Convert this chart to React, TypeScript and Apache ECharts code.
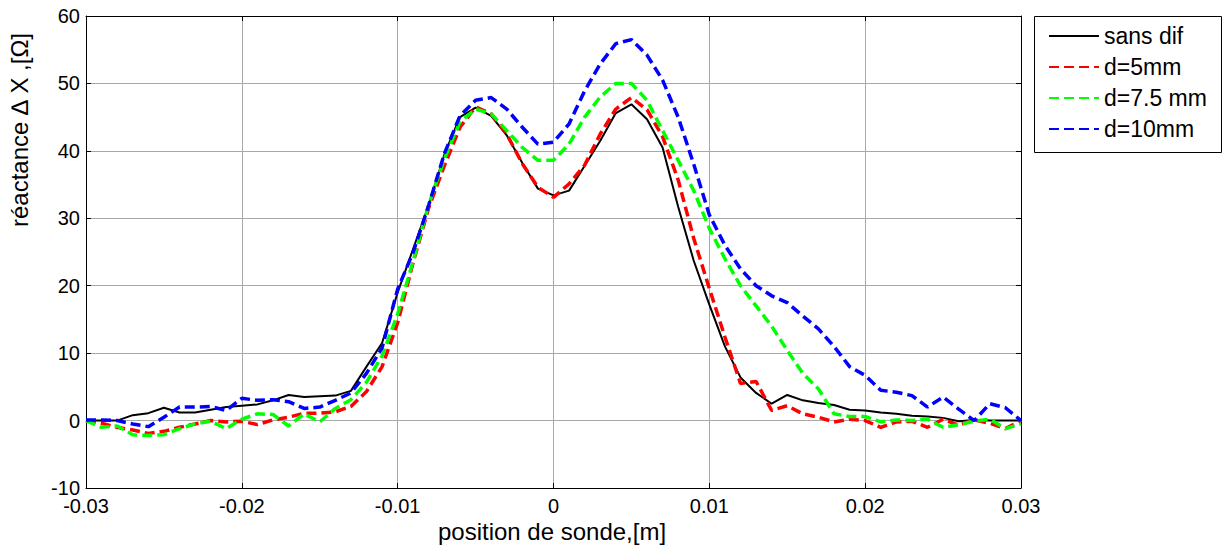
import React, { useEffect, useRef } from "react";
import * as echarts from "echarts";

const positions = [
  -0.03, -0.029, -0.028, -0.027, -0.026, -0.025, -0.024, -0.023, -0.022, -0.021,
  -0.02, -0.019, -0.018, -0.017, -0.016, -0.015, -0.014, -0.013, -0.012, -0.011,
  -0.01, -0.009, -0.008, -0.007, -0.006, -0.005, -0.004, -0.003, -0.002, -0.001,
  0, 0.001, 0.002, 0.003, 0.004, 0.005, 0.006, 0.007, 0.008, 0.009,
  0.01, 0.011, 0.012, 0.013, 0.014, 0.015, 0.016, 0.017, 0.018, 0.019,
  0.02, 0.021, 0.022, 0.023, 0.024, 0.025, 0.026, 0.027, 0.028, 0.029, 0.03,
];

const sansDif = [
  0, 0, 0, 0.8, 1.1, 1.9, 1.2, 1.2, 1.6, 2.0,
  2.2, 2.4, 3.0, 3.8, 3.5, 3.6, 3.7, 4.4, 8.0, 11.5,
  19.0, 25.5, 32.0, 39.5, 45.0, 46.4, 45.2, 42.3, 38.2, 34.4,
  33.4, 34.1, 37.8, 41.5, 45.6, 46.9, 44.7, 40.5, 31.7, 23.7,
  17.2, 11.0, 6.4, 4.1, 2.5, 3.8, 3.0, 2.6, 2.3, 1.6,
  1.5, 1.2, 1.0, 0.7, 0.6, 0.4, -0.1, 0.1, 0, 0, 0,
];

const d5mm = [
  0, -0.4, -1.0, -1.4, -1.9, -1.6, -1.0, -0.5, 0, -0.2,
  -0.1, -0.6, 0.1, 0.5, 1.1, 1.1, 1.3, 2.1, 4.3, 8.0,
  14.5, 23.5, 31.6, 37.8, 43.5, 46.5, 45.5, 42.5, 38.1, 34.6,
  33.1, 35.1, 37.9, 42.5, 46.2, 47.9, 46.1, 42.1, 35.7, 27.0,
  19.6, 12.4, 5.5, 5.8, 1.5, 2.2, 1.0, 0.5, -0.2, 0.2,
  0, -1.0, -0.2, -0.1, -1.0, 0.2, -0.7, 0.1, -0.4, -1.2, 0,
];

const d75mm = [
  0, -1.0, -0.8, -2.1, -2.2, -2.1, -1.2, -0.5, -0.1, -1.2,
  0.2, 1.0, 0.9, -0.8, 1.0, -0.2, 1.8, 3.1, 5.7, 9.6,
  15.8, 23.7, 32.1, 38.8, 44.3, 46.2, 45.5, 43.0, 40.5, 38.6,
  38.6, 41.0, 45.0, 48.0, 50.0, 50.0, 47.5, 43.0, 38.6, 34.1,
  28.5, 24.0, 20.0, 17.0, 14.0, 10.4, 7.0, 4.7, 1.0, 0.6,
  0.6, -0.2, 0.1, 0, 0.2, -1.0, -0.6, -0.1, 0.2, -1.2, -0.5,
];

const d10mm = [
  0.1, 0.1, 0, -0.5, -0.9, 0.5, 2.0, 2.0, 2.1, 1.5,
  3.3, 3.0, 3.1, 2.8, 1.8, 2.0, 3.0, 4.1, 7.0, 10.8,
  19.5, 25.0, 32.0, 39.6, 45.2, 47.5, 47.9, 46.2, 43.5, 41.0,
  41.3, 44.0, 48.9, 52.9, 55.9, 56.5, 54.2, 50.5, 45.0, 38.0,
  30.5, 26.0, 22.5, 20.0, 18.5, 17.5, 15.5, 13.6, 11.0, 8.0,
  6.7, 4.5, 4.2, 3.7, 2.0, 3.5, 1.7, 0, 2.5, 1.9, 0,
];

const seriesNames = ["sans dif", "d=5mm", "d=7.5 mm", "d=10mm"];
const seriesValues = [sansDif, d5mm, d75mm, d10mm];
const seriesColors = ["#000000", "#ff0000", "#00ff00", "#0000ff"];

const xTitle = "position de sonde,[m]";
const yTitle = "réactance ∆ X ,[Ω]";

const FONT = "Liberation Sans, Arial, sans-serif";

export default function App() {
  const ref = useRef<HTMLDivElement>(null);
  useEffect(() => {
    const chart = echarts.init(ref.current as HTMLDivElement, null, { renderer: "svg" });
    const gridLeft = 86;
    const gridTop = 16;
    const gridRight = 1225 - 1021;
    const gridBottom = 545 - 488;

    const axisCommon = {
      axisLine: { show: true, onZero: false, lineStyle: { color: "#000", width: 1 } },
      axisTick: { show: true, inside: true, length: 5, lineStyle: { color: "#000" } },
    };

    const series = seriesNames.map((name, k) => ({
      name,
      type: "line",
      data: positions.map((x, i) => [x, seriesValues[k][i]]),
      symbol: "none",
      showSymbol: false,
      lineStyle: {
        color: seriesColors[k],
        width: k === 0 ? 2 : 3.5,
        type: k === 0 ? "solid" : [10, 5],
      },
      itemStyle: { color: seriesColors[k] },
      z: 2 + k,
    }));

    chart.setOption({
      animation: false,
      backgroundColor: "#ffffff",
      grid: { left: gridLeft, right: gridRight, top: gridTop, bottom: gridBottom, containLabel: false },
      xAxis: [
        {
          type: "value",
          min: -0.03,
          max: 0.03,
          interval: 0.01,
          ...axisCommon,
          axisLabel: { color: "#000", fontSize: 20, fontFamily: FONT, margin: 10, lineHeight: 16 },
          splitLine: { show: true, lineStyle: { color: "#a8a8a8", width: 1 } },
        },
        {
          type: "value",
          position: "top",
          min: -0.03,
          max: 0.03,
          interval: 0.01,
          ...axisCommon,
          axisLabel: { show: false },
          splitLine: { show: false },
        },
      ],
      yAxis: [
        {
          type: "value",
          min: -10,
          max: 60,
          interval: 10,
          ...axisCommon,
          axisLabel: { color: "#000", fontSize: 20, fontFamily: FONT, margin: 6, lineHeight: 14 },
          splitLine: { show: true, lineStyle: { color: "#a8a8a8", width: 1 } },
        },
        {
          type: "value",
          position: "right",
          min: -10,
          max: 60,
          interval: 10,
          ...axisCommon,
          axisLabel: { show: false },
          splitLine: { show: false },
        },
      ],
      legend: {
        orient: "vertical",
        left: 1048,
        top: 24,
        padding: 0,
        itemWidth: 50,
        itemHeight: 14,
        itemGap: 7,
        itemStyle: { opacity: 0 },
        textStyle: { color: "#000", fontSize: 23, fontFamily: FONT, lineHeight: 24 },
        data: seriesNames,
      },
      graphic: [
        {
          type: "rect",
          shape: { x: 1034.5, y: 16.5, width: 187, height: 136 },
          style: { fill: "none", stroke: "#000", lineWidth: 1 },
          z: 0,
        },
        {
          type: "text",
          x: 552,
          y: 531,
          style: {
            text: xTitle,
            fill: "#000",
            font: `24px ${FONT}`,
            textAlign: "center",
            textVerticalAlign: "middle",
          },
        },
        {
          type: "text",
          x: 19,
          y: 130,
          rotation: Math.PI / 2,
          style: {
            text: yTitle,
            fill: "#000",
            font: `24px ${FONT}`,
            textAlign: "center",
            textVerticalAlign: "middle",
          },
        },
      ],
      series,
    });
    return () => chart.dispose();
  }, []);
  return (
    <div
      ref={ref}
      style={{ position: "fixed", left: 0, top: 0, width: 1225, height: 545, background: "#fff" }}
    />
  );
}
